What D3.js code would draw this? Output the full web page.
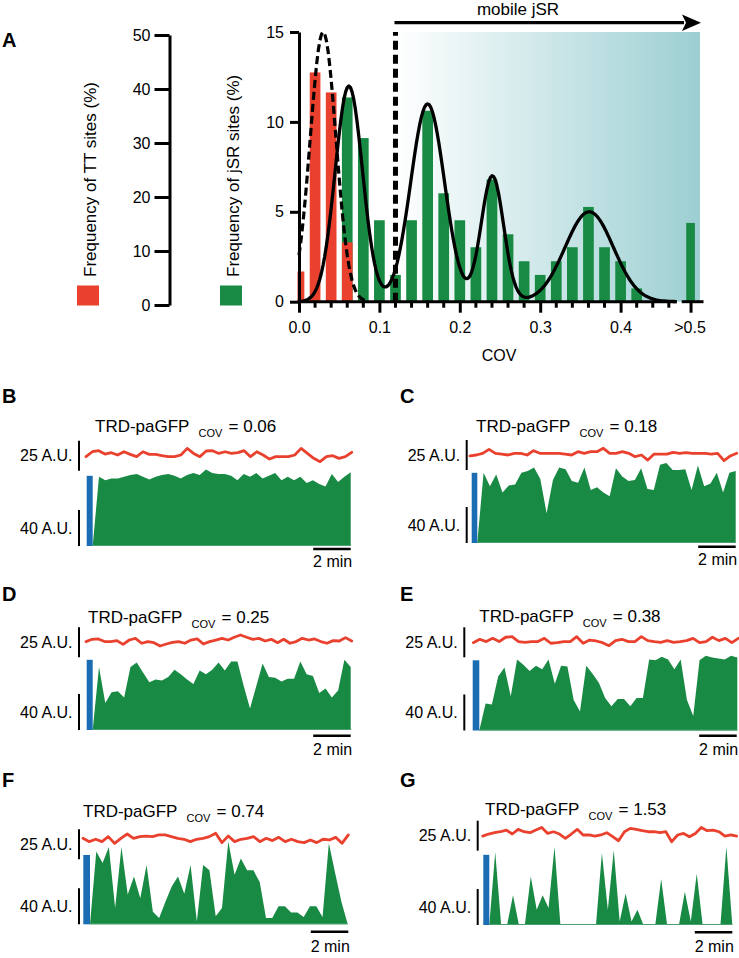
<!DOCTYPE html>
<html><head><meta charset="utf-8">
<script src="https://cdn.jsdelivr.net/npm/d3@7"></script>
<style>
html,body{margin:0;padding:0;background:#fff;}
svg{display:block;}
text{font-family:"Liberation Sans",Arial,Helvetica,sans-serif;}
</style></head><body>
<svg id="chart" width="739" height="958"></svg>
<script>
// ---------------- DATA ----------------
// Panel A: histogram of COV
const ttBins = [0.00, 0.02, 0.04, 0.06];
const ttFreq = [5.6, 42.5, 38.8, 11.0];             // % of TT sites (left axis 0-50)
const jsrBins = [0.06, 0.08, 0.10, 0.12, 0.14, 0.16, 0.18, 0.20, 0.22, 0.24,
                 0.26, 0.28, 0.30, 0.32, 0.34, 0.36, 0.38, 0.40, 0.42];
const jsrFreq = [11.36, 9.1, 4.53, 1.49, 4.53, 10.62, 6.03, 4.53, 3.03, 6.8,
                 3.75, 2.25, 1.49, 2.25, 3.03, 5.27, 3.03, 2.25, 0.74];  // % of jSR sites
const jsrOverflowLabel = ">0.5";
const jsrOverflowPos = 0.487;
const jsrOverflowFreq = 4.38;
// Gaussian fits
const jsrFitMeans  = [0.062, 0.160, 0.2405, 0.361];
const jsrFitAmps   = [12, 11, 7, 5];
const jsrFitSigmas = [0.017, 0.021, 0.014, 0.030];
const ttFitMean = 0.030, ttFitAmp = 50, ttFitSigma = 0.016;
const mobileThreshold = 0.12;
const yTicksJSR = [0, 5, 10, 15];
const yTicksTT = [0, 10, 20, 30, 40, 50];
const xMajorTicks = [0, 0.1, 0.2, 0.3, 0.4];

// Panels B-G: time courses (A.U.)
const panelLetters = ["B", "C", "D", "E", "F", "G"];
const panelCOV = ["0.06", "0.18", "0.25", "0.38", "0.74", "1.53"];
const blueLevel = [78, 78, 78, 78, 77, 78];
const greenB = [0,77,73,75,75,77,79,80,77,74,77,79,80,78,75,79,81,79,85,81,80,80,78,73,80,77,81,75,78,81,73,77,73,77,70,73,69,66,80,71,77,82];
const greenC = [0,78,63,76,56,64,65,78,80,84,71,33,70,84,82,69,67,84,59,62,56,52,83,74,69,70,83,60,59,87,89,81,81,82,59,86,63,66,78,56,78,80];
const greenD = [0,70,30,42,43,36,70,75,64,53,56,55,59,67,62,56,51,66,62,67,75,66,76,76,49,24,49,74,59,58,54,57,57,76,62,60,41,46,36,44,78,70];
const greenE = [0,30,29,60,70,38,79,73,66,72,68,79,52,72,71,34,21,72,63,53,36,27,35,35,27,36,36,79,78,82,79,68,79,34,16,78,83,81,80,79,83,81];
const greenF = [0,81,68,86,18,86,33,53,29,66,14,7,25,42,53,34,66,3,66,60,9,18,92,55,73,60,60,47,7,7,20,20,13,13,8,20,20,8,90,57,25,0];
const greenG = [0,81,0,0,33,0,0,54,17,33,19,87,0,0,0,0,0,0,0,80,17,83,4,35,4,17,0,0,0,51,0,0,0,37,4,57,0,0,0,0,87,0];
const redB = [11.7,15.8,16.7,13.9,15.0,13.1,15.8,13.6,11.7,15.8,13.6,13.6,12.5,11.7,11.7,13.1,18.6,14.4,11.7,16.4,16.7,14.4,15.8,14.4,15.0,16.7,11.7,15.8,13.1,9.7,11.7,11.7,11.7,13.1,18.6,14.4,10.3,7.5,11.7,12.5,10.3,11.7,15.3];
const redC = [11.7,12.5,13.9,17.2,13.9,13.3,12.5,13.9,13.9,12.5,16.1,13.9,13.9,13.9,13.9,13.3,12.5,15.3,13.9,15.3,15.3,18.1,13.9,13.9,15.3,13.9,11.1,12.5,8.3,13.3,13.3,13.3,14.7,13.9,14.4,13.9,13.9,13.9,13.3,13.9,7.8,11.7,13.9];
const redD = [13.1,15.0,15.3,13.1,13.1,13.9,10.8,14.4,15.8,11.7,13.1,12.2,9.4,11.1,12.5,13.1,11.7,14.4,15.3,11.1,13.1,14.4,15.8,14.4,16.7,18.6,16.7,15.0,15.8,13.6,15.0,12.2,15.0,11.7,13.1,15.8,14.4,15.3,13.1,11.7,13.9,13.6,16.4,13.6];
const redE = [12.2,15.0,13.1,15.8,13.1,16.7,17.2,13.1,12.5,13.1,13.1,15.8,11.7,12.2,13.1,13.1,17.2,11.7,14.4,13.6,12.2,9.7,13.9,15.0,13.1,13.1,17.2,13.9,13.1,12.5,13.9,12.5,13.1,13.9,15.8,12.2,13.1,16.7,13.9,15.8,12.2,15.8];
const redF = [17.5,14.7,16.7,14.7,18.9,13.3,17.5,21.1,17.5,18.9,19.4,18.9,20.3,20.3,18.9,17.5,16.7,14.7,16.7,17.5,18.9,21.7,13.9,19.4,14.7,16.7,17.5,18.9,14.7,17.5,15.6,18.3,14.7,16.7,14.7,13.9,16.1,13.9,16.7,16.1,18.3,13.3,20.3];
const redG = [12.2,13.9,15.0,15.8,17.2,13.9,17.8,15.8,15.0,17.2,19.4,14.4,15.8,13.9,10.3,13.9,17.8,13.1,13.1,12.2,13.1,15.0,11.7,8.3,15.8,18.6,17.8,16.7,15.8,15.8,15.0,15.8,7.5,13.1,14.4,11.7,14.4,19.4,16.7,17.2,15.8,12.2,13.1,12.2];
const greenTraces = [greenB, greenC, greenD, greenE, greenF, greenG];
const redTraces = [redB, redC, redD, redE, redF, redG];

// ---------------- LAYOUT ----------------
const FONT = '"Liberation Sans", Arial, Helvetica, sans-serif';
const COL = {red: "#e9412e", green: "#188a44", blue: "#1b6db3", teal: "#9ccfd2"};
const layout = [
  {lx:2,   ly:402.7, tx:95,    ty:431.7, sx:79,    redRef:470.7, base:546,   bx:86.7,  gx0:92.7,  gx1:350.7, rx0:86,    rx1:351.7, minY:549,   minX1:350.7, minTY:566.7},
  {lx:400, ly:403,   tx:476,   ty:431.7, sx:466.7, redRef:470,   base:543,   bx:471.7, gx0:477.3, gx1:735.7, rx0:470,   rx1:736.7, minY:546.7, minX1:735.7, minTY:565},
  {lx:2,   ly:600.7, tx:88,    ty:622.7, sx:79,    redRef:657.3, base:730,   bx:86.7,  gx0:92.7,  gx1:350.7, rx0:86,    rx1:351.7, minY:735.7, minX1:350.7, minTY:755},
  {lx:400, ly:601,   tx:479.3, ty:621.7, sx:464.3, redRef:657.3, base:730.5, bx:472.7, gx0:479.3, gx1:737.3, rx0:473.3, rx1:738.3, minY:735.7, minX1:736.7, minTY:755},
  {lx:2,   ly:786.7, tx:83,    ty:816.7, sx:79,    redRef:859.3, base:924.3, bx:83.3,  gx0:90,    gx1:347.7, rx0:83,    rx1:348.3, minY:931.7, minX1:348.3, minTY:951.7},
  {lx:400, ly:786.7, tx:485,   ty:815,   sx:477.7, redRef:850.7, base:925,   bx:483.3, gx0:489.3, gx1:732.3, rx0:482.7, rx1:736.7, minY:932.3, minX1:732.3, minTY:951.7}
];

const svg = d3.select("#chart");
const defs = svg.append("defs");

// ---------------- PANEL A ----------------
const x = d3.scaleLinear().domain([0, 0.5]).range([299, 701]);
const y = d3.scaleLinear().domain([0, 15]).range([301.7, 32]);
const yTT = d3.scaleLinear().domain([0, 50]).range([301.7, 32]);
const yTTaxis = d3.scaleLinear().domain([0, 50]).range([305, 35]);
const binW = x(0.0133) - x(0);

const grad = defs.append("linearGradient").attr("id", "mob")
  .attr("x1", "0%").attr("x2", "100%").attr("y1", "0%").attr("y2", "0%");
grad.append("stop").attr("offset", "0%").attr("stop-color", "#ffffff");
grad.append("stop").attr("offset", "100%").attr("stop-color", COL.teal);
defs.append("clipPath").attr("id", "plotclip").append("rect")
  .attr("x", x(0) - 1.5).attr("y", 0).attr("width", 420).attr("height", 320);

const gA = svg.append("g");
gA.append("rect").attr("x", x(mobileThreshold)).attr("y", y(15))
  .attr("width", x(0.5) - 1 - x(mobileThreshold)).attr("height", y(0) - y(15))
  .attr("fill", "url(#mob)");

const bars = gA.append("g").attr("clip-path", "url(#plotclip)");
bars.selectAll("rect.g").data(jsrBins).enter().append("rect")
  .attr("x", (d) => x(d) - binW / 2).attr("width", binW)
  .attr("y", (d, i) => y(jsrFreq[i])).attr("height", (d, i) => y(0) - y(jsrFreq[i]))
  .attr("fill", COL.green);
bars.append("rect").attr("x", x(jsrOverflowPos) - binW / 2 + 1).attr("width", binW - 2)
  .attr("y", y(jsrOverflowFreq)).attr("height", y(0) - y(jsrOverflowFreq)).attr("fill", COL.green);
bars.selectAll("rect.r").data(ttBins).enter().append("rect")
  .attr("x", (d) => x(d) - binW / 2).attr("width", binW)
  .attr("y", (d, i) => yTT(ttFreq[i])).attr("height", (d, i) => yTT(0) - yTT(ttFreq[i]))
  .attr("fill", COL.red);

// fitted curves
const samples = d3.range(0, 0.4701, 0.002);
const mix = (c) => d3.sum(jsrFitMeans, (m, k) => jsrFitAmps[k] * Math.exp(-((c - m) ** 2) / (2 * jsrFitSigmas[k] ** 2)));
const ttFit = (c) => ttFitAmp * Math.exp(-((c - ttFitMean) ** 2) / (2 * ttFitSigma ** 2));
gA.append("path").datum(samples.filter(c => c <= 0.085))
  .attr("d", d3.line().x(c => x(c)).y(c => yTT(ttFit(c))))
  .attr("fill", "none").attr("stroke", "#000").attr("stroke-width", 3.2).attr("stroke-dasharray", "8,4");
gA.append("path").datum(samples)
  .attr("d", d3.line().x(c => x(c)).y(c => y(mix(c))))
  .attr("fill", "none").attr("stroke", "#000").attr("stroke-width", 3.3).attr("stroke-linejoin", "round");

// threshold dashed line
gA.append("line").attr("x1", x(mobileThreshold)).attr("x2", x(mobileThreshold))
  .attr("y1", y(0)).attr("y2", y(15)).attr("stroke", "#000").attr("stroke-width", 5)
  .attr("stroke-dasharray", "9,5");

// arrow
gA.append("line").attr("x1", x(mobileThreshold) - 1).attr("x2", 684).attr("y1", 22.7).attr("y2", 22.7)
  .attr("stroke", "#000").attr("stroke-width", 3.3);
gA.append("path").attr("d", "M682,14.5 L701,22.7 L682,30.9 L686,22.7 Z").attr("fill", "#000");
gA.append("text").attr("x", 518).attr("y", 15).attr("text-anchor", "middle")
  .attr("font-size", 17).text("mobile jSR");

// y axis (jSR)
const ay = gA.append("g").attr("transform", `translate(${x(0)},0)`)
  .call(d3.axisLeft(y).tickValues(yTicksJSR).tickSize(9).tickSizeOuter(0).tickPadding(6));
// TT axis
const att = gA.append("g").attr("transform", "translate(169.5,0)")
  .call(d3.axisLeft(yTTaxis).tickValues(yTicksTT).tickSize(15).tickSizeOuter(0).tickPadding(4));
// x axis
const ax = gA.append("g").attr("transform", `translate(0,${y(0)})`)
  .call(d3.axisBottom(x).tickValues(xMajorTicks.concat([jsrOverflowPos]))
    .tickFormat(d => d === jsrOverflowPos ? jsrOverflowLabel : d3.format(".1f")(d))
    .tickSize(11).tickSizeOuter(0).tickPadding(9));
ax.select(".domain").remove();
[ay, att, ax].forEach(a => {
  a.select(".domain").attr("stroke-width", 3).attr("stroke", "#000");
  a.selectAll(".tick line").attr("stroke-width", 3).attr("stroke", "#000");
  a.selectAll(".tick text").attr("font-size", 16).attr("font-family", FONT).attr("fill", "#000");
});
ax.selectAll(".tick text").attr("dx", d => d === jsrOverflowPos ? -1 : 0);
const minorTicks = d3.range(1, 24).map(k => +(k * 0.02).toFixed(2)).filter(v => Math.abs(v * 10 - Math.round(v * 10)) > 1e-6);
ax.selectAll("line.minor").data(minorTicks).enter().append("line")
  .attr("x1", d => x(d)).attr("x2", d => x(d)).attr("y1", 0).attr("y2", 6)
  .attr("stroke", "#000").attr("stroke-width", 3);
ax.append("line").attr("x1", x(0) - 1.5).attr("x2", 676.5).attr("y1", 0).attr("y2", 0)
  .attr("stroke", "#000").attr("stroke-width", 3);
ax.append("line").attr("x1", 681.7).attr("x2", 703.5).attr("y1", 0).attr("y2", 0)
  .attr("stroke", "#000").attr("stroke-width", 3);
gA.append("text").attr("x", 499).attr("y", 360.7).attr("text-anchor", "middle")
  .attr("font-size", 16).text("COV");

// legends / axis titles
gA.append("text").attr("transform", "translate(96,277) rotate(-90)").attr("font-size", 17)
  .text("Frequency of TT sites (%)");
gA.append("text").attr("transform", "translate(239,277) rotate(-90)").attr("font-size", 17)
  .text("Frequency of jSR sites (%)");
gA.append("rect").attr("x", 77).attr("y", 285.5).attr("width", 22).attr("height", 20).attr("fill", COL.red);
gA.append("rect").attr("x", 220).attr("y", 285.5).attr("width", 22).attr("height", 20).attr("fill", COL.green);
gA.append("text").attr("x", 2).attr("y", 46.7).attr("font-size", 20).attr("font-weight", "bold").text("A");

// ---------------- PANELS B-G ----------------
const pxPerMin = 18.75;
panelLetters.forEach((letter, i) => {
  const L = layout[i];
  const green = greenTraces[i], red = redTraces[i];
  const g = svg.append("g");
  g.append("text").attr("x", L.lx).attr("y", L.ly).attr("font-size", 20).attr("font-weight", "bold").text(letter);
  const t = g.append("text").attr("x", L.tx).attr("y", L.ty).attr("font-size", 17);
  t.append("tspan").text("TRD-paGFP");
  t.append("tspan").attr("dx", 9).attr("dy", 5).attr("font-size", 11).text("COV");
  t.append("tspan").attr("dx", 1.5).attr("dy", -5).attr("font-size", 17).text(" = " + panelCOV[i]);

  const gy = d3.scaleLinear().domain([0, 40]).range([L.base, L.base - 36]);
  const ry = d3.scaleLinear().domain([0, 25]).range([L.redRef, L.redRef - 30]);
  const gx = d3.scaleLinear().domain([0, green.length - 1]).range([L.gx0, L.gx1]);
  const rx = d3.scaleLinear().domain([0, red.length - 1]).range([L.rx0, L.rx1]);

  g.append("path").datum(green)
    .attr("d", d3.area().x((d, j) => gx(j)).y0(L.base).y1(d => gy(d)))
    .attr("fill", COL.green);
  g.append("line").attr("x1", L.gx0).attr("x2", L.gx1).attr("y1", L.base - 0.5).attr("y2", L.base - 0.5)
    .attr("stroke", "#4aa070").attr("stroke-width", 1);
  g.append("rect").attr("x", L.bx).attr("width", L.gx0 - L.bx)
    .attr("y", gy(blueLevel[i])).attr("height", L.base - gy(blueLevel[i])).attr("fill", COL.blue);
  g.append("path").datum(red)
    .attr("d", d3.line().x((d, j) => rx(j)).y(d => ry(d)))
    .attr("fill", "none").attr("stroke", COL.red).attr("stroke-width", 2.8)
    .attr("stroke-linejoin", "round").attr("stroke-linecap", "round");

  // scale bars
  g.append("line").attr("x1", L.sx).attr("x2", L.sx).attr("y1", ry(0)).attr("y2", ry(25))
    .attr("stroke", "#000").attr("stroke-width", 2);
  g.append("text").attr("x", L.sx - 6.5).attr("y", (ry(0) + ry(25)) / 2 + 5.7)
    .attr("text-anchor", "end").attr("font-size", 16).text("25 A.U.");
  g.append("line").attr("x1", L.sx).attr("x2", L.sx).attr("y1", gy(0)).attr("y2", gy(40))
    .attr("stroke", "#000").attr("stroke-width", 2);
  g.append("text").attr("x", L.sx - 6.5).attr("y", (gy(0) + gy(40)) / 2 + 5.7)
    .attr("text-anchor", "end").attr("font-size", 16).text("40 A.U.");
  g.append("line").attr("x1", L.minX1 - 2 * pxPerMin).attr("x2", L.minX1)
    .attr("y1", L.minY).attr("y2", L.minY).attr("stroke", "#000").attr("stroke-width", 2.5);
  g.append("text").attr("x", L.minX1 + 1.5).attr("y", L.minTY).attr("text-anchor", "end")
    .attr("font-size", 16).text("2 min");
});
</script></body></html>
